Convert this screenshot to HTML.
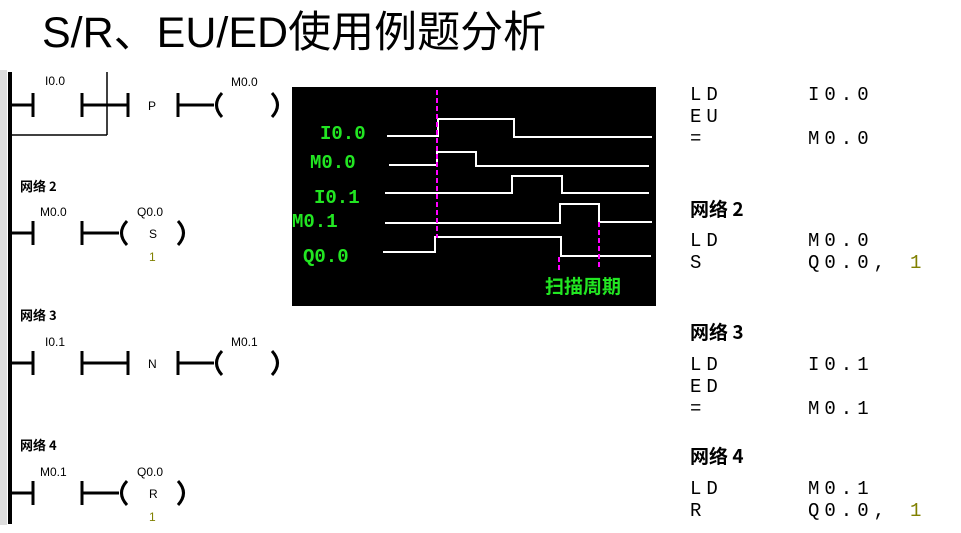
<!DOCTYPE html>
<html><head><meta charset="utf-8"><style>
html,body{margin:0;padding:0;background:#fff;}
svg{display:block;}
.t{font-family:"Liberation Sans","Noto Sans CJK SC",sans-serif;}
.m{font-family:"Liberation Mono","Noto Sans CJK SC",monospace;font-size:19px;letter-spacing:5px;fill:#000;}
.s{font-family:"Liberation Sans",sans-serif;font-size:12px;fill:#000;}
.n{font-family:"Noto Sans CJK SC","WenQuanYi Zen Hei",sans-serif;font-size:13px;font-weight:bold;fill:#000;}
.nb{font-family:"Noto Sans CJK SC","WenQuanYi Zen Hei",sans-serif;font-size:19px;font-weight:bold;fill:#000;}
.g{font-family:"Liberation Mono","Noto Sans CJK SC",monospace;fill:#22e622;font-weight:bold;}
</style></head><body>
<svg width="961" height="533" viewBox="0 0 961 533" xmlns="http://www.w3.org/2000/svg">
<text class="t" x="42" y="47" font-size="43" fill="#000">S/R、EU/ED使用例题分析</text>
<rect x="0" y="70" width="7" height="455" fill="#ddd"/>
<rect x="8" y="72" width="4" height="452" fill="#000"/>
<g stroke="#000" stroke-width="3" fill="none">
<line x1="10" y1="105" x2="33" y2="105"/>
<line x1="33" y1="93" x2="33" y2="117"/>
<line x1="82" y1="93" x2="82" y2="117"/>
<line x1="82" y1="105" x2="128" y2="105"/>
<line x1="128" y1="93" x2="128" y2="117"/>
<line x1="178" y1="93" x2="178" y2="117"/>
<line x1="178" y1="105" x2="214" y2="105"/>
<path d="M222 93 Q211 105 222 117"/>
<path d="M272 93 Q283 105 272 117"/>
<line x1="10" y1="233" x2="33" y2="233"/>
<line x1="33" y1="221" x2="33" y2="245"/>
<line x1="82" y1="221" x2="82" y2="245"/>
<line x1="82" y1="233" x2="119" y2="233"/>
<path d="M127 221 Q116 233 127 245"/>
<path d="M178 221 Q189 233 178 245"/>
<line x1="10" y1="363" x2="33" y2="363"/>
<line x1="33" y1="351" x2="33" y2="375"/>
<line x1="82" y1="351" x2="82" y2="375"/>
<line x1="82" y1="363" x2="128" y2="363"/>
<line x1="128" y1="351" x2="128" y2="375"/>
<line x1="178" y1="351" x2="178" y2="375"/>
<line x1="178" y1="363" x2="214" y2="363"/>
<path d="M222 351 Q211 363 222 375"/>
<path d="M272 351 Q283 363 272 375"/>
<line x1="10" y1="493" x2="33" y2="493"/>
<line x1="33" y1="481" x2="33" y2="505"/>
<line x1="82" y1="481" x2="82" y2="505"/>
<line x1="82" y1="493" x2="119" y2="493"/>
<path d="M127 481 Q116 493 127 505"/>
<path d="M178 481 Q189 493 178 505"/>
</g>
<g stroke="#000" stroke-width="1.5" fill="none">
<line x1="107" y1="72" x2="107" y2="135"/>
<line x1="10" y1="135" x2="107" y2="135"/>
</g>
<text class="s" x="45" y="85">I0.0</text>
<text class="s" x="231" y="86">M0.0</text>
<text class="s" x="148" y="110">P</text>
<text class="n" x="20" y="191">网络 2</text>
<text class="s" x="40" y="216">M0.0</text>
<text class="s" x="137" y="216">Q0.0</text>
<text class="s" x="149" y="238">S</text>
<text class="s" x="149" y="261" style="fill:#808000">1</text>
<text class="n" x="20" y="320">网络 3</text>
<text class="s" x="45" y="346">I0.1</text>
<text class="s" x="231" y="346">M0.1</text>
<text class="s" x="148" y="368">N</text>
<text class="n" x="20" y="450">网络 4</text>
<text class="s" x="40" y="476">M0.1</text>
<text class="s" x="137" y="476">Q0.0</text>
<text class="s" x="149" y="498">R</text>
<text class="s" x="149" y="521" style="fill:#808000">1</text>
<rect x="292" y="87" width="364" height="219" fill="#000"/>
<g stroke="#fff" stroke-width="2" fill="none">
<polyline points="387,136 438,136 438,119 514,119 514,137 652,137"/>
<polyline points="389,165 437,165 437,152 476,152 476,166 649,166"/>
<polyline points="385,193 512,193 512,176 562,176 562,193 649,193"/>
<polyline points="385,223 560,223 560,204 599,204 599,222 652,222"/>
<polyline points="383,252 435,252 435,237 561,237 561,256 651,256"/>
</g>
<g stroke="#ff00ff" stroke-width="2" stroke-dasharray="5,3" fill="none">
<line x1="437" y1="90" x2="437" y2="238"/>
<line x1="559" y1="257" x2="559" y2="270"/>
<line x1="599" y1="222" x2="599" y2="268"/>
</g>
<text class="g" x="320" y="139" font-size="19">I0.0</text>
<text class="g" x="310" y="168" font-size="19">M0.0</text>
<text class="g" x="314" y="203" font-size="19">I0.1</text>
<text class="g" x="292" y="227" font-size="19">M0.1</text>
<text class="g" x="303" y="262" font-size="19">Q0.0</text>
<text class="g" x="545" y="293" font-size="19" font-weight="normal">扫描周期</text>
<text class="m" x="690" y="100">LD</text><text class="m" x="808" y="100">I0.0</text>
<text class="m" x="690" y="122">EU</text>
<text class="m" x="690" y="144">=</text><text class="m" x="808" y="144">M0.0</text>
<text class="nb" x="690" y="216">网络 2</text>
<text class="m" x="690" y="246">LD</text><text class="m" x="808" y="246">M0.0</text>
<text class="m" x="690" y="268">S</text><text class="m" x="808" y="268">Q0.0,</text><text class="m" x="910" y="268" style="fill:#808000">1</text>
<text class="nb" x="690" y="339">网络 3</text>
<text class="m" x="690" y="370">LD</text><text class="m" x="808" y="370">I0.1</text>
<text class="m" x="690" y="392">ED</text>
<text class="m" x="690" y="414">=</text><text class="m" x="808" y="414">M0.1</text>
<text class="nb" x="690" y="463">网络 4</text>
<text class="m" x="690" y="494">LD</text><text class="m" x="808" y="494">M0.1</text>
<text class="m" x="690" y="516">R</text><text class="m" x="808" y="516">Q0.0,</text><text class="m" x="910" y="516" style="fill:#808000">1</text>
</svg>
</body></html>
